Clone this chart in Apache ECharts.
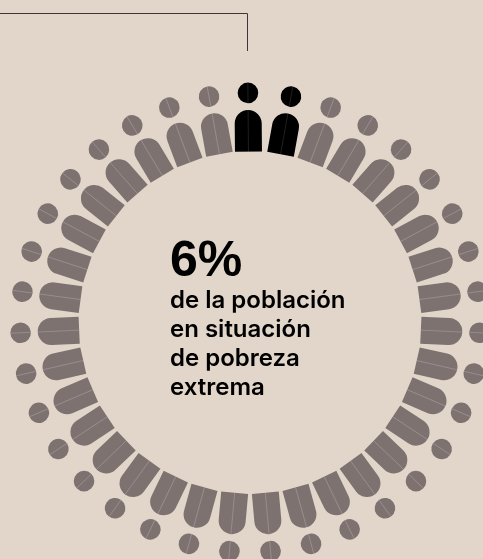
<!DOCTYPE html>
<html><head><meta charset="utf-8">
<style>html,body{margin:0;padding:0;background:#e2d6ca;overflow:hidden}#c{width:483px;height:559px}</style>
<script src="https://cdn.jsdelivr.net/npm/echarts@6/dist/echarts.min.js"></script>
</head><body><div id="c"></div>
<script>
// 1 = person in extreme poverty, 0 = rest of the population (clockwise from the top)
const personStatus = [1,1,0,0,0,0,0,0,0,0,0,0,0,0,0,0,0,0,0,0,0,0,0,0,0,0,0,0,0,0,0,0,0,0,0];
const headlineValue = '6%';
const captionLines = ['de la población','en situación','de pobreza','extrema'];
const statusColors = ['#7e7271','#000000'];

const seats = personStatus.map((s,i)=>[i,s]);
const HEAD_R=10.3, HEAD_AT=229.6, BODY_IN=171, BODY_OUT=212.5, HALF=13.5, FIRST_NUDGE=-0.05;

function renderPerson(params, api){
  const seat = api.value(0), status = api.value(1);
  const c = api.coord([0, 0]);
  const a = seat===0 ? FIRST_NUDGE : seat;
  const rot = -a/personStatus.length*2*Math.PI;
  const fill = statusColors[status];
  const seam = status ? 'rgba(255,255,255,0.2)' : 'rgba(255,255,255,0.3)';
  const capY = -(BODY_OUT-HALF);
  return {type:'group', x:c[0], y:c[1], rotation:rot, children:[
    {type:'circle', shape:{cx:0,cy:-HEAD_AT,r:HEAD_R}, style:{fill}},
    {type:'path', shape:{
      pathData:`M ${-HALF} ${-BODY_IN} L ${-HALF} ${capY} A ${HALF} ${HALF} 0 0 1 ${HALF} ${capY} L ${HALF} ${-BODY_IN} Z`,
      x:-HALF, y:-BODY_OUT, width:HALF*2, height:BODY_OUT-BODY_IN, layout:'cover'
    }, style:{fill}},
    {type:'line', shape:{x1:0,y1:-BODY_IN,x2:0,y2:-BODY_OUT}, style:{stroke:seam,lineWidth:0.6}},
    {type:'line', shape:{x1:0,y1:-(HEAD_AT-HEAD_R),x2:0,y2:-(HEAD_AT+HEAD_R)}, style:{stroke:seam,lineWidth:0.6}}
  ]};
}

const chart = echarts.init(document.getElementById('c'),null,{renderer:'canvas'});
chart.setOption({
  animation:false,
  backgroundColor:'#e2d6ca',
  polar:{center:[250,322.5],radius:[0,240]},
  angleAxis:{type:'value',min:0,max:personStatus.length,startAngle:90,clockwise:true,show:false},
  radiusAxis:{type:'value',min:0,max:240,show:false},
  series:[{type:'custom',coordinateSystem:'polar',renderItem:renderPerson,data:seats,encode:{radius:0,angle:0},silent:true,clip:false}],
  graphic:[
    {type:'polyline',shape:{points:[[0,13.5],[247.5,13.5],[247.5,51]]},style:{stroke:'#3d3733',lineWidth:1,fill:null}},
    {type:'text',x:170,y:287,style:{text:headlineValue,font:'700 50px "Liberation Sans",sans-serif',fill:'#000',verticalAlign:'bottom'}},
    ...captionLines.map((t,i)=>({type:'text',x:170,y:313+i*29,style:{text:t,font:'600 24px "Inter",sans-serif',fill:'#000',verticalAlign:'bottom'}}))
  ]
});
</script></body></html>
